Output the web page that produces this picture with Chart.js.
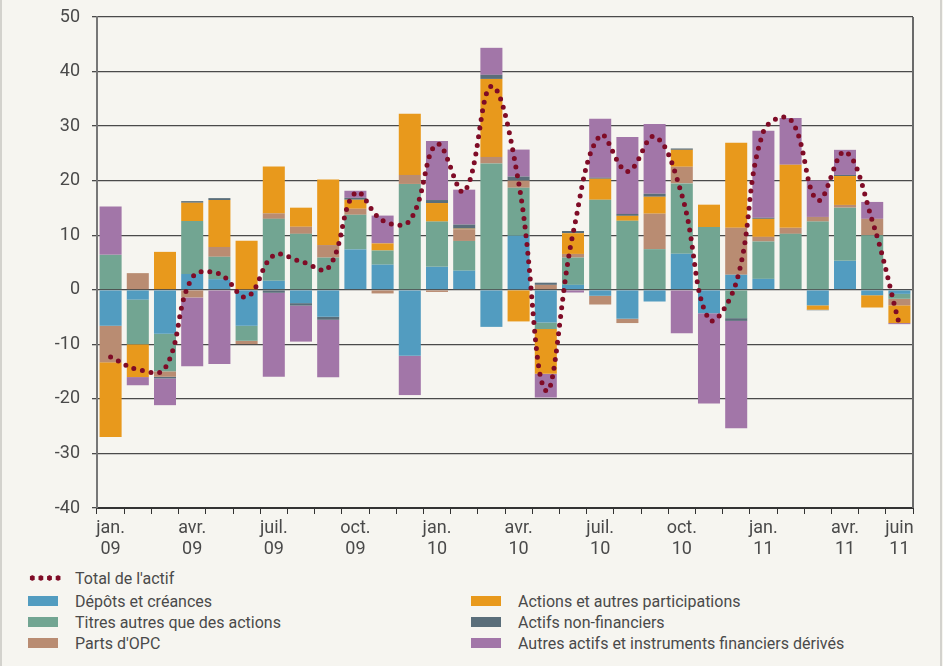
<!DOCTYPE html>
<html lang="fr">
<head>
<meta charset="utf-8">
<script src="https://cdn.jsdelivr.net/npm/chart.js@4.4.1/dist/chart.umd.min.js"></script>
<style>
    html, body { margin: 0; padding: 0; background: #f6f5f0; }
    body { width: 943px; height: 666px; position: relative; overflow: hidden; font-family: Roboto, "Noto Sans", sans-serif; color: #4a4a4a; }
    #chart { position: absolute; left: 0; top: 0; }
    .edge { position: absolute; top: 0; width: 2px; height: 666px; background: #d3d2cd; }
    .legend-item { position: absolute; height: 20px; display: flex; align-items: center; font-size: 16px; white-space: nowrap; }
    .swatch { width: 30px; height: 10px; margin-right: 17px; }
    .dots { width: 34px; height: 10px; margin-right: 13px;
            background: radial-gradient(circle, #7f0b26 2.4px, transparent 2.9px) 0 0 / 8.6px 10px repeat-x; }
</style>
</head>
<body>
<div class="edge" style="left:0"></div>
<div class="edge" style="left:940px"></div>
<canvas id="chart" width="943" height="566"></canvas>
<div id="legend"></div>
<script>
    // Months, janvier 2009 -> juin 2011
    const months = [
        'jan. 09', 'févr. 09', 'mars 09', 'avr. 09', 'mai 09', 'juin 09',
        'juil. 09', 'août 09', 'sept. 09', 'oct. 09', 'nov. 09', 'déc. 09',
        'jan. 10', 'févr. 10', 'mars 10', 'avr. 10', 'mai 10', 'juin 10',
        'juil. 10', 'août 10', 'sept. 10', 'oct. 10', 'nov. 10', 'déc. 10',
        'jan. 11', 'févr. 11', 'mars 11', 'avr. 11', 'mai 11', 'juin 11'
    ];
    // Only these months get a label on the x axis
    const labelledMonths = ['jan. 09', 'avr. 09', 'juil. 09', 'oct. 09', 'jan. 10', 'avr. 10',
                            'juil. 10', 'oct. 10', 'jan. 11', 'avr. 11', 'juin 11'];

    const depots = [-6.6, -1.8, -8.05, 2.9, 1.95, -6.6, 1.65, -2.45, -4.95, 7.4, 4.6, -12.1,
                    4.2, 3.5, -6.8, 9.9, -6.0, 0.9, -1.1, -5.3, -2.15, 6.6, -4.3, 2.75,
                    2.0, 0, -2.85, 5.3, -1.0, -0.75];
    const titres = [6.4, -8.2, -6.9, 9.7, 4.1, -2.75, 11.35, 10.25, 5.9, 6.35, 2.6, 19.4,
                    8.3, 5.45, 23.15, 8.8, -1.2, 5.0, 16.5, 12.65, 7.45, 12.9, 11.5, -5.2,
                    6.85, 10.25, 12.5, 9.75, 10.0, -0.9];
    const partsOpc = [-6.7, 3.05, -1.0, -1.4, 1.8, -0.6, 1.0, 1.3, 2.3, 1.1, -0.67, 1.65,
                      -0.4, 2.15, 1.2, 1.3, 0.9, 0.67, -1.6, -0.8, 6.5, 3.05, 0, 8.6,
                      0.85, 1.1, 0.85, 0.5, 3.0, -1.2];
    const actions = [-13.7, -6.0, 6.95, 3.35, 8.6, 9.0, 8.6, 3.5, 12.0, 1.65, 1.3, 11.2,
                     3.4, 0.1, 14.3, -5.8, -8.2, 3.8, 3.85, 0.9, 3.1, 3.1, 4.1, 15.6,
                     3.3, 11.55, -0.8, 5.3, -2.25, -3.25];
    const nonFinanciers = [0, 0, -0.3, 0.3, 0.35, 0, -0.55, -0.45, -0.55, 0.35, 0, 0,
                           0.55, 0.75, 0.75, 0.75, 0.4, 0.4, 0.2, 0.35, 0.55, 0.25, 0, -0.5,
                           0.2, 0, -0.1, 0.2, 0, 0.1];
    const autres = [8.85, -1.5, -4.9, -12.6, -13.6, 0, -15.4, -6.6, -10.55, 1.3, 5.1, -7.2,
                    10.8, 6.4, 4.95, 4.95, -4.35, -0.5, 10.8, 14.1, 12.8, -7.95, -16.55, -19.7,
                    15.95, 8.6, 6.7, 4.6, 3.1, -0.2];
    const totalActif = [-12.3, -14.6, -14.4, 2.2, 2.9, -1.3, 6.3, 5.2, 4.0, 17.8, 12.7, 12.7,
                        26.7, 18.0, 37.3, 19.7, -18.5, 10.3, 28.3, 21.7, 28.1, 17.4, -5.4, 1.3,
                        29.0, 31.2, 16.4, 25.3, 12.7, -6.4];

    const yTicks = [-40, -30, -20, -10, 0, 10, 20, 30, 40, 50];

    // Colours
    const TEXT_COLOR = '#4a4a4a';
    const GRID_COLOR = '#4a4a4a';
    const LINE_COLOR = '#7f0b26';

    const barSeries = [
        { label: 'Dépôts et créances', data: depots, color: '#529cc0' },
        { label: 'Titres autres que des actions', data: titres, color: '#72a592' },
        { label: "Parts d'OPC", data: partsOpc, color: '#b98c72' },
        { label: 'Actions et autres participations', data: actions, color: '#e8991c' },
        { label: 'Actifs non-financiers', data: nonFinanciers, color: '#5a6e7a' },
        { label: 'Autres actifs et instruments financiers dérivés', data: autres, color: '#a276a8' }
    ];

    const datasets = barSeries.map(s => ({
        type: 'bar',
        label: s.label,
        data: s.data,
        backgroundColor: s.color,
        borderWidth: 0,
        stack: 'actif',
        order: 1,
        categoryPercentage: 0.81,
        barPercentage: 1.0
    }));

    datasets.push({
        type: 'line',
        label: "Total de l'actif",
        data: totalActif,
        borderColor: LINE_COLOR,
        borderWidth: 5,
        borderDash: [0, 8.7],
        borderCapStyle: 'round',
        pointRadius: 0,
        tension: 0.4,
        fill: false,
        stack: 'total',
        order: 0
    });

    // right frame line of the plot area
    const frameRight = {
        id: 'frameRight',
        afterDraw(chart) {
            const { ctx, chartArea } = chart;
            ctx.save();
            ctx.strokeStyle = '#6a6a6a';
            ctx.lineWidth = 2;
            ctx.beginPath();
            ctx.moveTo(chartArea.right, chartArea.top);
            ctx.lineTo(chartArea.right, chartArea.bottom);
            ctx.stroke();
            ctx.restore();
        }
    };

    new Chart(document.getElementById('chart'), {
        data: { labels: months, datasets: datasets },
        options: {
            responsive: false,
            animation: false,
            layout: { padding: { top: 17, right: 30, left: 0, bottom: 0 } },
            plugins: {
                legend: { display: false },
                tooltip: { enabled: false }
            },
            scales: {
                x: {
                    stacked: true,
                    offset: true,
                    grid: {
                        offset: true,
                        drawOnChartArea: false,
                        drawTicks: true,
                        tickLength: 6,
                        color: '#333'
                    },
                    border: { display: true, color: '#333', width: 2 },
                    ticks: {
                        autoSkip: false,
                        maxRotation: 0,
                        padding: 4,
                        color: TEXT_COLOR,
                        font: { family: 'Roboto', size: 18, lineHeight: 1.15 },
                        callback: function(value, index) {
                            const m = months[index];
                            return labelledMonths.includes(m) ? m.split(' ') : '';
                        }
                    },
                    afterFit(scale) { scale.height = 58; }
                },
                y: {
                    stacked: true,
                    min: -40,
                    max: 50,
                    afterBuildTicks(scale) { scale.ticks = yTicks.map(v => ({ value: v })); },
                    grid: {
                        color: GRID_COLOR,
                        lineWidth: 1.3,
                        drawTicks: true,
                        tickLength: 5
                    },
                    border: { display: true, color: '#777', width: 2 },
                    ticks: {
                        padding: 12,
                        color: TEXT_COLOR,
                        font: { family: 'Roboto', size: 18 }
                    },
                    afterFit(scale) {
                        scale.width = 97;
                        scale.paddingTop = 0;
                        scale.paddingBottom = 0;
                    }
                }
            }
        },
        plugins: [frameRight]
    });

    // Legend, two columns like the original
    const legend = document.getElementById('legend');
    const legendLayout = [
        { x: 28, y: 568, line: true, label: "Total de l'actif" },
        { x: 28, y: 591, series: 0 },
        { x: 28, y: 612, series: 1 },
        { x: 28, y: 633, series: 2 },
        { x: 471, y: 591, series: 3 },
        { x: 471, y: 612, series: 4 },
        { x: 471, y: 633, series: 5 }
    ];
    legendLayout.forEach(item => {
        const div = document.createElement('div');
        div.className = 'legend-item';
        div.style.left = item.x + 'px';
        div.style.top = item.y + 'px';
        const mark = document.createElement('span');
        const text = document.createElement('span');
        if (item.line) {
            mark.className = 'dots';
            text.textContent = item.label;
        } else {
            mark.className = 'swatch';
            mark.style.background = barSeries[item.series].color;
            text.textContent = barSeries[item.series].label;
        }
        div.appendChild(mark);
        div.appendChild(text);
        legend.appendChild(div);
    });
</script>
</body>
</html>
